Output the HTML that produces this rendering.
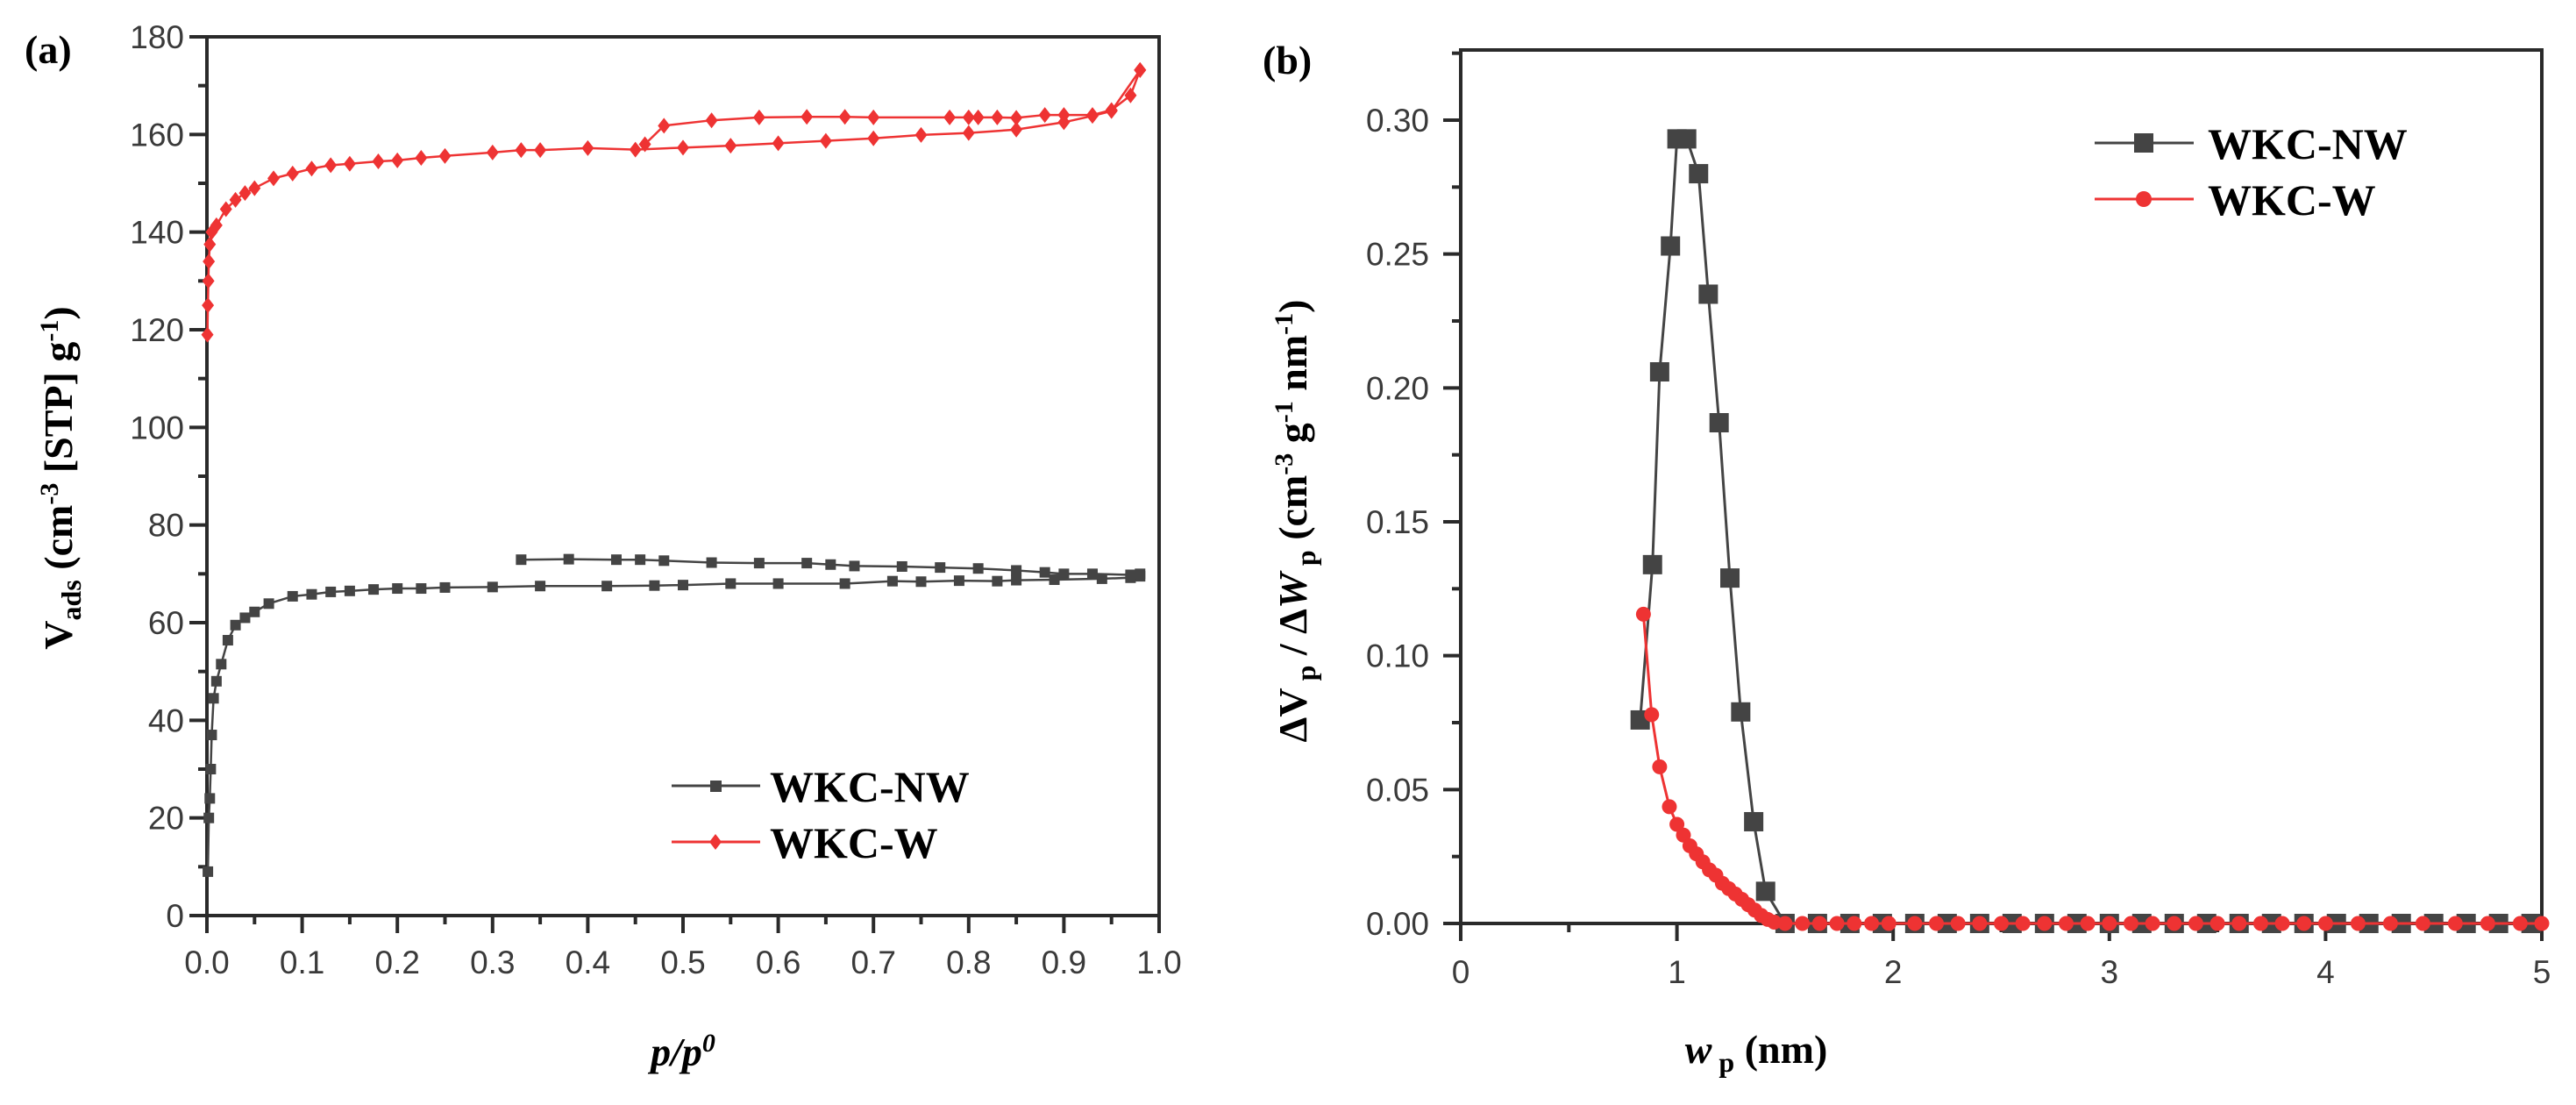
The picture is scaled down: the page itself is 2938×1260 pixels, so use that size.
<!DOCTYPE html>
<html><head><meta charset="utf-8">
<style>
html,body{margin:0;padding:0;background:#fff;}
svg{display:block;}
.tick{font-family:"Liberation Sans",sans-serif;font-size:37px;fill:#3a3a3a;}
.title{font-family:"Liberation Serif",serif;font-weight:bold;font-size:46px;fill:#000;}
.leg{font-family:"Liberation Serif",serif;font-weight:bold;font-size:50px;fill:#000;}
</style></head>
<body>
<svg id="fig" width="2938" height="1260" viewBox="0 0 2938 1260" xmlns="http://www.w3.org/2000/svg">
<text x="28" y="72" class="title" font-size="48">(a)</text>
<text x="1440" y="84" class="title" font-size="48">(b)</text>
<g id="pa"></g>
<g id="pb"></g>
</svg>
<script>
// ---- Panel (a) data ----
const aXTicks = [0.0,0.1,0.2,0.3,0.4,0.5,0.6,0.7,0.8,0.9,1.0];
const aYTicks = [0,20,40,60,80,100,120,140,160,180];
const nwAdsX = [0.001,0.002,0.003,0.004,0.005,0.007,0.01,0.015,0.022,0.03,0.04,0.05,0.065,0.09,0.11,0.13,0.15,0.175,0.2,0.225,0.25,0.3,0.35,0.42,0.47,0.5,0.55,0.6,0.67,0.72,0.75,0.79,0.83,0.85,0.89,0.94,0.97,0.98];
const nwAdsY = [9,20,24,30,37,44.5,48,51.5,56.4,59.5,61,62.2,63.9,65.4,65.8,66.3,66.5,66.8,67,67,67.2,67.3,67.5,67.5,67.6,67.7,68,68,68,68.5,68.4,68.6,68.5,68.7,68.8,69,69.2,69.5];
const nwDesX = [0.98,0.97,0.93,0.9,0.88,0.85,0.81,0.77,0.73,0.68,0.655,0.63,0.58,0.53,0.48,0.455,0.43,0.38,0.33];
const nwDesY = [70,69.8,70,70,70.3,70.7,71.1,71.3,71.5,71.6,71.9,72.2,72.2,72.3,72.7,72.9,72.9,73,72.9];
const wAdsX = [0.0005,0.001,0.0015,0.002,0.003,0.005,0.01,0.02,0.03,0.04,0.05,0.07,0.09,0.11,0.13,0.15,0.18,0.2,0.225,0.25,0.3,0.33,0.35,0.4,0.45,0.5,0.55,0.6,0.65,0.7,0.75,0.8,0.85,0.9,0.93,0.95,0.98];
const wAdsY = [119,125,130,134,137.5,140,141.4,144.7,146.6,148,149,151,152,153,153.7,154,154.5,154.7,155.2,155.6,156.3,156.8,156.8,157.2,156.9,157.3,157.7,158.2,158.7,159.2,159.9,160.3,161,162.5,163.8,164.8,173.2];
const wDesX = [0.98,0.97,0.95,0.93,0.9,0.88,0.85,0.83,0.81,0.8,0.78,0.7,0.67,0.63,0.58,0.53,0.48,0.46];
const wDesY = [173.2,168,165,164,164,164,163.4,163.5,163.5,163.5,163.5,163.5,163.6,163.6,163.5,162.9,161.8,158];

// ---- Panel (b) data ----
const bXTicks = [0,1,2,3,4,5];
const bYTicks = [0.00,0.05,0.10,0.15,0.20,0.25,0.30];
const bYLabels = ["0.00","0.05","0.10","0.15","0.20","0.25","0.30"];
const nwPsdX = [0.83,0.887,0.92,0.97,1.0,1.045,1.10,1.145,1.195,1.245,1.295,1.355,1.41,1.5,1.65,1.8,1.95,2.1,2.25,2.4,2.55,2.7,2.85,3.0,3.15,3.3,3.45,3.6,3.75,3.9,4.05,4.2,4.35,4.5,4.65,4.8,4.95];
const nwPsdY = [0.076,0.134,0.206,0.253,0.293,0.293,0.280,0.235,0.187,0.129,0.079,0.038,0.012,0,0,0,0,0,0,0,0,0,0,0,0,0,0,0,0,0,0,0,0,0,0,0,0];
const wPsdX = [0.845,0.883,0.92,0.965,1.0,1.03,1.06,1.09,1.12,1.15,1.18,1.21,1.24,1.27,1.3,1.33,1.36,1.39,1.42,1.45,1.5,1.58,1.66,1.74,1.82,1.9,1.98,2.1,2.2,2.3,2.4,2.5,2.6,2.7,2.8,2.9,3.0,3.1,3.2,3.3,3.4,3.5,3.6,3.7,3.8,3.9,4.0,4.15,4.3,4.45,4.6,4.75,4.9,5.0];
const wPsdY = [0.1155,0.078,0.0585,0.0436,0.037,0.033,0.029,0.026,0.023,0.020,0.018,0.015,0.013,0.011,0.009,0.007,0.005,0.003,0.0015,0.0005,0,0,0,0,0,0,0,0,0,0,0,0,0,0,0,0,0,0,0,0,0,0,0,0,0,0,0,0,0,0,0,0,0,0];

const NS="http://www.w3.org/2000/svg";
function mk(parent,tag,attrs){const e=document.createElementNS(NS,tag);for(const k in attrs)e.setAttribute(k,attrs[k]);parent.appendChild(e);return e;}

// ---- Panel (a) ----
const A={l:236,r:1322,t:42,b:1044,x0:0,x1:1,y0:0,y1:180};
const ax=v=>A.l+(v-A.x0)/(A.x1-A.x0)*(A.r-A.l);
const ay=v=>A.b-(v-A.y0)/(A.y1-A.y0)*(A.b-A.t);
const pa=document.getElementById('pa');
let fr=mk(pa,'rect',{x:A.l,y:A.t,width:A.r-A.l,height:A.b-A.t,fill:'none',stroke:'#2a2a2a','stroke-width':4});


aXTicks.forEach((v,i)=>{
  const x=ax(v);
  const t=mk(pa,'line',{x1:x,y1:A.b,x2:x,y2:A.b+20,stroke:'#2a2a2a','stroke-width':4});
  
  
  if(i<aXTicks.length-1){const m=mk(pa,'line',{x1:ax(v+0.05),y1:A.b,x2:ax(v+0.05),y2:A.b+10,stroke:'#2a2a2a','stroke-width':4});
  
  }
  const l=mk(pa,'text',{x:x,y:A.b+66,'text-anchor':'middle',class:'tick'});l.textContent=v.toFixed(1);
  
  
});
aYTicks.forEach((v,i)=>{
  const y=ay(v);
  const t=mk(pa,'line',{x1:A.l-20,y1:y,x2:A.l,y2:y,stroke:'#2a2a2a','stroke-width':4});
  
  
  if(i<aYTicks.length-1){const m=mk(pa,'line',{x1:A.l-10,y1:ay(v+10),x2:A.l,y2:ay(v+10),stroke:'#2a2a2a','stroke-width':4});
  
  }
  const l=mk(pa,'text',{x:A.l-26,y:y+13,'text-anchor':'end',class:'tick'});l.textContent=String(v);
  
  
});
function seriesA(xs,ys,color,shape,name){
  const pts=xs.map((x,i)=>ax(x)+','+ay(ys[i])).join(' ');
  const pl=mk(pa,'polyline',{points:pts,fill:'none',stroke:color,'stroke-width':2.5});
  
  
  xs.forEach((x,i)=>{
    const cx=ax(x),cy=ay(ys[i]);let m;
    if(shape==='sq') m=mk(pa,'rect',{x:cx-6,y:cy-6,width:12,height:12,fill:color});
    else m=mk(pa,'polygon',{points:`${cx},${cy-9} ${cx+7},${cy} ${cx},${cy+9} ${cx-7},${cy}`,fill:color});
    
    
  });
}
seriesA(nwAdsX,nwAdsY,'#444','sq','wkc-nw-adsorption');
seriesA(nwDesX,nwDesY,'#444','sq','wkc-nw-desorption');
seriesA(wAdsX,wAdsY,'#ee3333','dm','wkc-w-adsorption');
seriesA(wDesX,wDesY,'#ee3333','dm','wkc-w-desorption');
// legend a
let g=mk(pa,'g',{});
mk(g,'line',{x1:766,y1:896,x2:867,y2:896,stroke:'#444','stroke-width':3});
mk(g,'rect',{x:810,y:890,width:13,height:13,fill:'#444'});
let lt=mk(g,'text',{x:878,y:914,class:'leg'});lt.textContent='WKC-NW';


mk(g,'line',{x1:766,y1:960,x2:867,y2:960,stroke:'#ee3333','stroke-width':3});
mk(g,'polygon',{points:'816,951 823,960 816,969 809,960',fill:'#ee3333'});
lt=mk(g,'text',{x:878,y:978,class:'leg'});lt.textContent='WKC-W';


// titles a
let tt=mk(pa,'text',{x:0,y:0,class:'title',transform:'translate(82,545) rotate(-90)','text-anchor':'middle'});
tt.innerHTML='V<tspan font-size="32" dy="10">ads</tspan><tspan dy="-10"> (cm</tspan><tspan font-size="30" dy="-16">-3</tspan><tspan dy="16"> [STP] g</tspan><tspan font-size="30" dy="-16">-1</tspan><tspan dy="16">)</tspan>';


tt=mk(pa,'text',{x:779,y:1215,class:'title','text-anchor':'middle','font-style':'italic'});
tt.innerHTML='p/p<tspan font-size="30" dy="-16">0</tspan>';



// ---- Panel (b) ----
const B={l:1666,r:2899,t:57,b:1053,x0:0,x1:5,y0:0,y1:0.325};
const bx=v=>B.l+(v-B.x0)/(B.x1-B.x0)*(B.r-B.l);
const by=v=>B.b-(v-B.y0)/(0.30)*(1053-137);
const pb=document.getElementById('pb');
fr=mk(pb,'rect',{x:B.l,y:B.t,width:B.r-B.l,height:B.b-B.t,fill:'none',stroke:'#2a2a2a','stroke-width':4});


bXTicks.forEach((v,i)=>{
  const x=bx(v);
  const t=mk(pb,'line',{x1:x,y1:B.b,x2:x,y2:B.b+20,stroke:'#2a2a2a','stroke-width':4});
  
  
  if(i<bXTicks.length-1){const m=mk(pb,'line',{x1:bx(v+0.5),y1:B.b,x2:bx(v+0.5),y2:B.b+10,stroke:'#2a2a2a','stroke-width':4});
  
  }
  const l=mk(pb,'text',{x:x,y:B.b+68,'text-anchor':'middle',class:'tick'});l.textContent=String(v);
  
  
});
bYTicks.forEach((v,i)=>{
  const y=by(v);
  const t=mk(pb,'line',{x1:B.l-20,y1:y,x2:B.l,y2:y,stroke:'#2a2a2a','stroke-width':4});
  
  
  const m=mk(pb,'line',{x1:B.l-10,y1:by(v+0.025),x2:B.l,y2:by(v+0.025),stroke:'#2a2a2a','stroke-width':4});
  
  
  const l=mk(pb,'text',{x:B.l-36,y:y+13,'text-anchor':'end',class:'tick'});l.textContent=bYLabels[i];
  
  
});
function seriesB(xs,ys,color,shape,name){
  const pts=xs.map((x,i)=>bx(x)+','+by(ys[i])).join(' ');
  const pl=mk(pb,'polyline',{points:pts,fill:'none',stroke:color,'stroke-width':3});
  
  
  xs.forEach((x,i)=>{
    const cx=bx(x),cy=by(ys[i]);let m;
    if(shape==='sq') m=mk(pb,'rect',{x:cx-11,y:cy-11,width:22,height:22,fill:color});
    else m=mk(pb,'circle',{cx:cx,cy:cy,r:8.5,fill:color});
    
    
  });
}
seriesB(nwPsdX,nwPsdY,'#444','sq','wkc-nw-psd');
seriesB(wPsdX,wPsdY,'#ee3333','ci','wkc-w-psd');
g=mk(pb,'g',{});
mk(g,'line',{x1:2389,y1:163,x2:2502,y2:163,stroke:'#444','stroke-width':3});
mk(g,'rect',{x:2434,y:152,width:22,height:22,fill:'#444'});
lt=mk(g,'text',{x:2518,y:181,class:'leg'});lt.textContent='WKC-NW';


mk(g,'line',{x1:2389,y1:227,x2:2502,y2:227,stroke:'#ee3333','stroke-width':3});
mk(g,'circle',{cx:2445,cy:227,r:9,fill:'#ee3333'});
lt=mk(g,'text',{x:2518,y:245,class:'leg'});lt.textContent='WKC-W';


tt=mk(pb,'text',{x:0,y:0,class:'title',transform:'translate(1490,594) rotate(-90)','text-anchor':'middle'});
tt.innerHTML='ΔV<tspan font-size="32" dy="10"> p</tspan><tspan dy="-10"> / Δ</tspan><tspan font-style="italic">W</tspan><tspan font-size="32" dy="10"> p</tspan><tspan dy="-10"> (cm</tspan><tspan font-size="30" dy="-16">-3</tspan><tspan dy="16"> g</tspan><tspan font-size="30" dy="-16">-1</tspan><tspan dy="16"> nm</tspan><tspan font-size="30" dy="-16">-1</tspan><tspan dy="16">)</tspan>';


tt=mk(pb,'text',{x:2003,y:1212,class:'title','text-anchor':'middle'});
tt.innerHTML='<tspan font-style="italic">w</tspan><tspan font-size="32" dy="10"> p</tspan><tspan dy="-10"> (nm)</tspan>';


</script>
</body></html>
